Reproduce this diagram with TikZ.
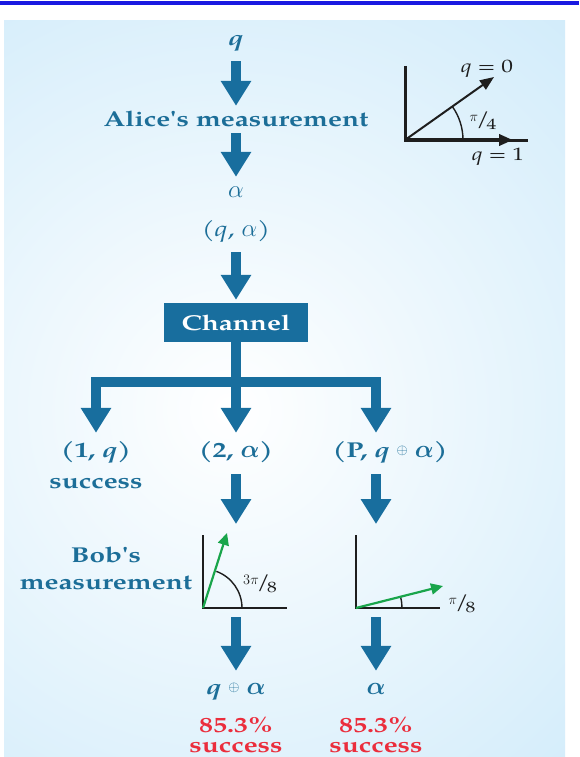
\documentclass[tikz,border=0pt]{standalone}
\usepackage{amsmath}
\usepackage{fontspec}
\setmainfont{texgyrepagella}[Extension=.otf, UprightFont=*-regular, BoldFont=*-bold, ItalicFont=*-italic, BoldItalicFont=*-bolditalic, FakeStretch=1.3]
\newfontfamily\plainfam{texgyrepagella}[Extension=.otf, UprightFont=*-regular, BoldFont=*-bold, FakeStretch=1.3, Ligatures=TeXOff]
\usetikzlibrary{arrows.meta}
\definecolor{tealc}{RGB}{24,110,158}
\definecolor{textc}{RGB}{28,110,152}
\definecolor{redc}{RGB}{235,45,60}
\definecolor{greenc}{RGB}{25,165,75}
\definecolor{bgc}{RGB}{208,235,250}
\definecolor{topc}{RGB}{25,25,225}
\definecolor{inkc}{RGB}{30,30,30}
\tikzset{
  lab/.style={text=textc, font=\fontsize{21.5}{24}\selectfont\bfseries, inner sep=0pt, text height=15pt, text depth=5pt},
  labr/.style={lab, font=\fontsize{21.5}{24}\selectfont},
  redlab/.style={lab, text=redc},
  fat/.style={draw=tealc, line width=10.5pt, -{Triangle[width=29pt,length=25pt]}},
  stem/.style={draw=tealc, line width=10.5pt},
  axisline/.style={draw=inkc, line width=2.6pt},
  vec/.style={draw=greenc, line width=2.2pt, -{Triangle[width=11pt,length=12pt]}},
  anglearc/.style={draw=inkc, line width=1.4pt},
  anglab/.style={text=inkc, font=\fontsize{18}{20}\selectfont, inner sep=0pt},
}
\newcommand{\fr}[2]{\raisebox{4pt}{\fontsize{15}{15}\selectfont$#1$}\kern-2pt{\fontsize{21}{21}\selectfont/}\kern-3pt\raisebox{-4pt}{\fontsize{15}{15}\selectfont #2}}
\newcommand{\apos}{{\plainfam\bfseries '}}
\newcommand{\xo}{\raisebox{2.5pt}{\fontsize{14}{14}\selectfont$\oplus$}}
\newcommand{\al}{{\fontsize{25}{25}\selectfont$\alpha$}}
\newcommand{\bal}{{\fontsize{25}{25}\selectfont$\boldsymbol{\alpha}$}}
\begin{document}
\begin{tikzpicture}[x=1pt,y=-1pt]
\useasboundingbox (0,0) rectangle (579,757);
% background
\fill[white] (0,0) rectangle (579,757);
\fill[topc] (0,1.5) rectangle (579,5.5);
\begin{scope}
  \clip (4,21) rectangle (565,757);
  \fill[bgc] (4,21) rectangle (565,757);
  \shade[inner color=white, outer color=bgc] (230,410) circle (540);
\end{scope}

% main column
\node[lab] (q) at (236,41) {\itshape q};
\node[lab] (alice) at (236,122) {Alice\apos s measurement};
\node[labr] (a1) at (236,192) {\al};
\node[labr] (qa) at (236,231) {(\textit{q}, \al)};
\node[fill=tealc, text=white, font=\fontsize{21.5}{24}\selectfont\bfseries, minimum width=144pt, minimum height=39pt, inner sep=0pt] (ch) at (236,322.5) {Channel};

\draw[fat, shorten <=10pt, shorten >=6pt] (q.south) -- (alice.north);
\draw[fat, shorten <=1pt, shorten >=5pt] (alice.south) -- (a1.north);
\draw[fat, shorten <=11pt, shorten >=3pt] (qa.south) -- (ch.north);

% splitter
\coordinate (split) at (236,382);
\coordinate (d1) at (96,382);
\coordinate (d3) at (376,382);
\draw[stem] (ch.south) -- (split);
\draw[stem, line cap=rect] (d1) -- (d3);

\node[lab] (n1) at (96,452) {(1, \textit{q})};
\node[lab] (s1) at (96,483) {success};
\node[lab] (n2) at (236,452) {(2, \bal)};
\node[lab] (n3) at (390,452) {(P, \textit{q} \xo\ \bal)};

\draw[fat, shorten >=9pt] (d1) -- (n1.north);
\draw[fat, shorten >=9pt] (split) -- (n2.north);
\draw[fat, shorten >=9pt] (d3) -- (d3 |- n3.north);

% Bob
\node[lab, text height=, text depth=, align=center, font=\fontsize{21.5}{27}\selectfont\bfseries] (bob) at (106,568) {Bob\apos s\\measurement};

\coordinate (t2) at (236,524);
\coordinate (t3) at (376,524);
\draw[fat, shorten <=12pt] (n2.south) -- (t2);
\draw[fat, shorten <=12pt] (d3 |- n3.south) -- (t3);

% axes left
\coordinate (o1) at (203,608);
\draw[axisline] (203,535) -- (o1) -- (287,608);
\draw[anglearc] (242,608) arc[start angle=0, end angle=-70, radius=39];
\draw[vec] (o1) -- (227,533);
\node[anglab] (l1) at (260,584) {\fr{3\pi}{8}};

% axes right
\coordinate (o2) at (356,608);
\draw[axisline] (356,535) -- (o2) -- (440,608);
\draw[anglearc] (402,608) arc[start angle=0, end angle=-14, radius=46];
\draw[vec] (o2) -- (443,586);
\node[anglab] (l2) at (462,604) {\fr{\pi}{8}};

% lower arrows
\coordinate (u2) at (236,617);
\coordinate (u3) at (376,617);
\node[lab] (r2) at (236,689) {\textit{q} \xo\ \bal};
\node[lab] (r3) at (376,689) {\bal};
\draw[fat, shorten >=8pt] (u2) -- (r2.north);
\draw[fat, shorten >=8pt] (u3) -- (r3.north);

\node[redlab] (p2) at (236,727) {85.3\%};
\node[redlab] (c2) at (236,747) {success};
\node[redlab] (p3) at (376,727) {85.3\%};
\node[redlab] (c3) at (376,747) {success};

% inset top right
\coordinate (o0) at (405,140);
\draw[axisline, line width=3pt] (405,66) -- (o0) -- (528,140);
\draw[draw=inkc, line width=3.5pt, -{Triangle[width=11pt,length=14pt]}] (o0) -- (513,140);
\draw[anglearc] (463,140) arc[start angle=0, end angle=-35.5, radius=58];
\draw[draw=inkc, line width=2pt, -{Triangle[width=11pt,length=14pt]}] (o0) -- (494,77);
\node[anglab] (q0) at (487,69) {\textit{q} = 0};
\node[anglab] (pi4) at (483,121) {\fr{\pi}{4}};
\node[anglab] (q1) at (498,157) {\textit{q} = 1};
\end{tikzpicture}
\end{document}
